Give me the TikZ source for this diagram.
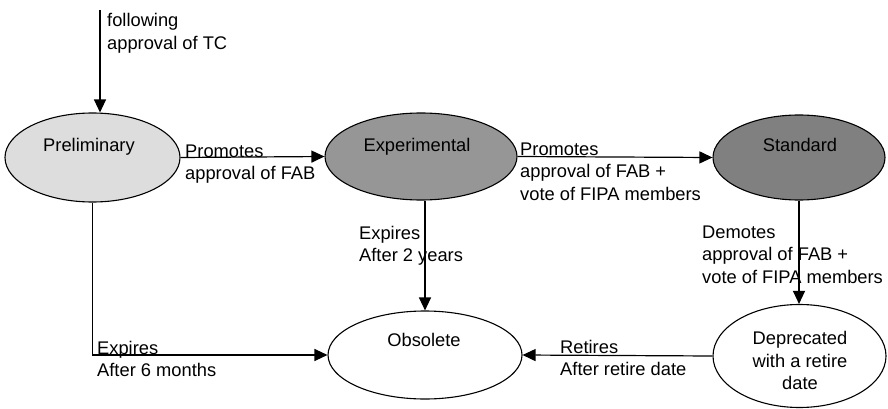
\documentclass[tikz,border=0pt]{standalone}
\usepackage{fontspec}
\setmainfont{Liberation Sans}
\usetikzlibrary{arrows.meta,shapes.geometric,calc}
\definecolor{lightfill}{HTML}{DDDDDD}
\definecolor{midfill}{HTML}{969696}
\definecolor{darkfill}{HTML}{808080}
\begin{document}
\begin{tikzpicture}[x=1pt,y=-1pt,
  every node/.style={font=\fontsize{18.3}{22.5}\selectfont},
  state/.style={ellipse,draw=black,line width=1.1pt,inner sep=0pt},
  txt/.style={inner sep=0pt,anchor=base},
  lbl/.style={inner sep=0pt,anchor=base west,align=left},
  conn/.style={draw=black,line width=1.2pt},
  arr/.style={conn,-{Triangle[length=13pt,width=12pt]}}]
\useasboundingbox (0,0) rectangle (888,409);
% states
\node[state,fill=lightfill,minimum width=175pt,minimum height=89pt] (pre) at (92.5,157.5) {};
\node[state,fill=midfill,minimum width=192pt,minimum height=87pt] (exp) at (421,156.5) {};
\node[state,fill=darkfill,minimum width=172pt,minimum height=85pt] (std) at (799,157.5) {};
\node[state,fill=white,minimum width=194pt,minimum height=88pt] (obs) at (425,355) {};
\node[state,fill=white,minimum width=173pt,minimum height=103pt] (dep) at (799.5,356) {};
% state texts (base anchor = baseline of the last line)
\node[txt] (preT) at (89,151.5) {Preliminary};
\node[txt] (expT) at (417,151.5) {Experimental};
\node[txt] (stdT) at (800,151.5) {Standard};
\node[txt] (obsT) at (424,346.5) {Obsolete};
\node[txt,align=center] (depT) at (800,389.5) {Deprecated\\with a retire\\date};
% connectors
\coordinate (start) at (100,10);
\draw[arr] (start) -- (start |- pre.north);
\draw[arr] (pre.east) -- (exp.west);
\draw[arr] (exp.east) -- (std.west);
\draw[arr] (std.south) -- (std.south |- dep.north);
\draw[arr] (exp.south -| obs.north) -- (obs.north);
\draw[arr] (pre.south) |- (obs.west);
\draw[arr] (dep.west) -- (obs.east);
% labels (base anchor = baseline of the last line)
\node[lbl] (l1) at (107,49.5) {following\\approval of TC};
\node[lbl] (l2) at (185,179.5) {Promotes\\approval of FAB};
\node[lbl] (l3) at (520,200) {Promotes\\approval of FAB +\\vote of FIPA members};
\node[lbl] (l4) at (359,261.5) {Expires\\After 2 years};
\node[lbl] (l5) at (702,283) {Demotes\\approval of FAB +\\vote of FIPA members};
\node[lbl] (l6) at (97,376.5) {Expires\\After 6 months};
\node[lbl] (l7) at (560,375.5) {Retires\\After retire date};
\end{tikzpicture}
\end{document}
